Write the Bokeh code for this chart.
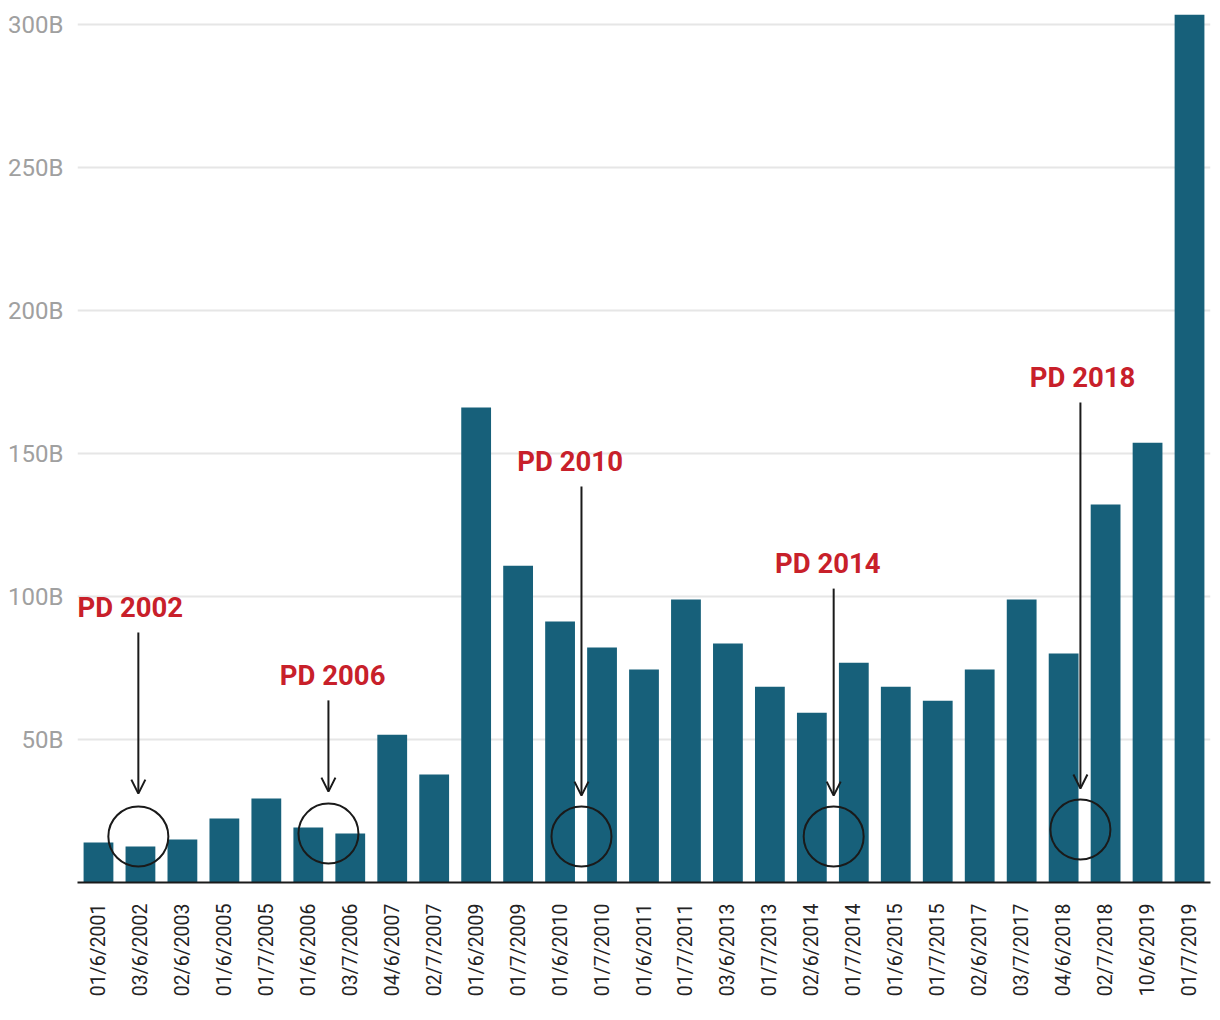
import math
from bokeh.plotting import figure
from bokeh.models import ColumnDataSource, Range1d, FixedTicker, Arrow, OpenHead
from bokeh.core.properties import value
from bokeh.embed import file_html
from bokeh.resources import INLINE

# ---- data ----
dates = ["01/6/2001", "03/6/2002", "02/6/2003", "01/6/2005", "01/7/2005",
         "01/6/2006", "03/7/2006", "04/6/2007", "02/7/2007", "01/6/2009",
         "01/7/2009", "01/6/2010", "01/7/2010", "01/6/2011", "01/7/2011",
         "03/6/2013", "01/7/2013", "02/6/2014", "01/7/2014", "01/6/2015",
         "01/7/2015", "02/6/2017", "03/7/2017", "04/6/2018", "02/7/2018",
         "10/6/2019", "01/7/2019"]
values_b = [14.0, 12.6, 15.0, 22.4, 29.4,
            19.2, 17.1, 51.7, 37.8, 166.1,
            110.8, 91.3, 82.2, 74.5, 99.0,
            83.6, 68.5, 59.4, 76.9, 68.5,
            63.6, 74.5, 99.0, 80.1, 132.2,
            153.8, 303.5]
y_ticks = [50, 100, 150, 200, 250, 300]
y_tick_labels = ["50B", "100B", "150B", "200B", "250B", "300B"]

# annotations
ann_labels = ["PD 2002", "PD 2006", "PD 2010", "PD 2014", "PD 2018"]

# ---- styling ----
BAR = "#17607a"
RED = "#c8202a"
INK = "#1a1a1a"
FONT = "Roboto"

x_centers = [i + 0.5 for i in range(len(dates))]
src = ColumnDataSource(dict(x=x_centers, top=values_b, label=dates))

p = figure(width=1212, height=1002, output_backend="svg", toolbar_location=None,
           x_range=Range1d(0, len(dates)), y_range=Range1d(0, 305),
           min_border_left=77, min_border_right=2, min_border_top=10,
           min_border_bottom=120)
p.outline_line_color = None
p.background_fill_color = "white"
p.border_fill_color = "white"

p.vbar(x="x", top="top", width=0.71, bottom=0, source=src,
       fill_color=BAR, line_color=None)

# axes
p.xaxis.ticker = FixedTicker(ticks=x_centers)
p.xaxis.major_label_overrides = {x: d for x, d in zip(x_centers, dates)}
p.xaxis.major_label_orientation = math.pi / 2
p.xaxis.major_label_text_font = FONT
p.xaxis.major_label_text_font_size = "19.5px"
p.xaxis.major_label_text_color = "#222222"
p.xaxis.major_label_standoff = 15
p.xaxis.axis_line_color = INK
p.xaxis.axis_line_width = 2
p.xaxis.major_tick_line_color = None
p.xaxis.minor_tick_line_color = None

p.yaxis.ticker = FixedTicker(ticks=y_ticks)
p.yaxis.major_label_overrides = {t: l for t, l in zip(y_ticks, y_tick_labels)}
p.yaxis.major_label_text_font = FONT
p.yaxis.major_label_text_font_size = "24px"
p.yaxis.major_label_text_color = "#a0a0a0"
p.yaxis.major_label_standoff = 8
p.yaxis.axis_line_color = None
p.yaxis.major_tick_line_color = None
p.yaxis.minor_tick_line_color = None

p.xgrid.grid_line_color = None
p.ygrid.ticker = FixedTicker(ticks=y_ticks)
p.ygrid.grid_line_color = "#e6e6e6"
p.ygrid.grid_line_width = 2
p.ygrid.level = "underlay"

# ---- annotations ----
ann_text_x = [1.26, 6.08, 11.74, 17.88, 23.95]
ann_text_y = [96.3, 72.5, 147.3, 111.5, 176.7]
arrow_x = [1.45, 5.98, 12.01, 18.02, 23.90]
arrow_y0 = [87.4, 63.7, 138.5, 102.8, 167.9]
arrow_y1 = [31.1, 31.8, 30.4, 30.4, 32.9]
circle_y = [16.1, 17.1, 16.1, 16.1, 18.5]

p.text(x=ann_text_x, y=ann_text_y, text=ann_labels,
       text_font=value(FONT), text_font_style="bold", text_font_size="27.5px",
       text_color=RED, text_align="center", text_baseline="alphabetic")

for xa, y0, y1 in zip(arrow_x, arrow_y0, arrow_y1):
    p.add_layout(Arrow(end=OpenHead(size=14, line_width=2, line_color=INK),
                       x_start=xa, y_start=y0, x_end=xa, y_end=y1,
                       line_color=INK, line_width=2))

p.scatter(x=arrow_x, y=circle_y, size=60, marker="circle",
          fill_color=None, line_color=INK, line_width=2)

open("out.html", "w").write(file_html(p, INLINE))
